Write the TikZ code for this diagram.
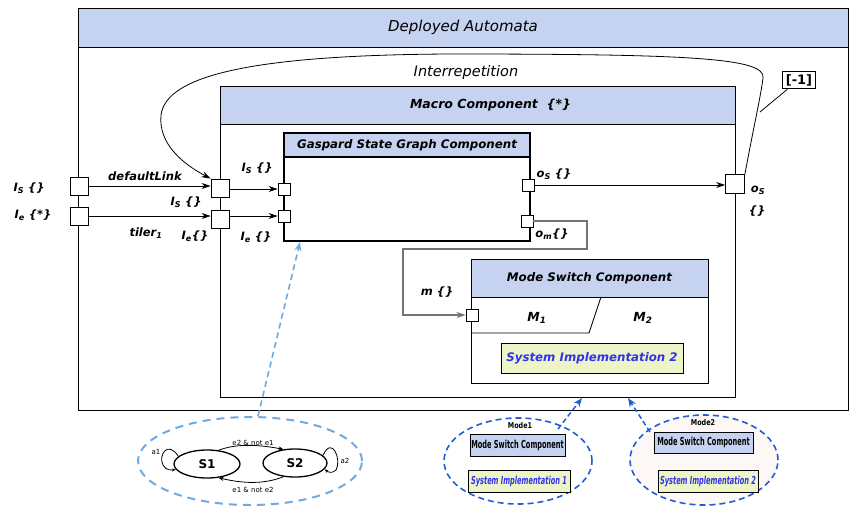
\documentclass[tikz,border=0pt]{standalone}
\usepackage{fontspec}
\setmainfont{DejaVu Sans}
\usetikzlibrary{arrows.meta,shapes.geometric,calc}
\definecolor{hdr}{RGB}{197,211,240}
\definecolor{yel}{RGB}{236,244,200}
\definecolor{impl}{RGB}{50,50,235}
\definecolor{lblue}{RGB}{110,170,225}
\definecolor{dblue}{RGB}{30,95,215}
\definecolor{pinkbg}{RGB}{253,247,245}
\begin{document}
\begin{tikzpicture}[x=1pt,y=-1pt,
  frame/.style={draw, line width=0.9pt, inner sep=0pt},
  hbox/.style={frame, fill=hdr},
  port/.style={draw, fill=white, line width=0.9pt, minimum size=18pt, inner sep=0pt},
  sport/.style={draw, fill=white, line width=0.9pt, minimum size=12pt, inner sep=0pt},
  arr/.style={line width=0.8pt, -{Stealth[length=9pt,width=6pt]}},
  lbl/.style={font=\bfseries\itshape\fontsize{11.5}{12}\selectfont, inner sep=1pt},
  state/.style={ellipse, draw, line width=1.3pt, inner sep=0pt, font=\bfseries\fontsize{12}{13}\selectfont},
  tiny/.style={font=\fontsize{7}{8}\selectfont, inner sep=1pt},
  small/.style={draw, line width=1pt, minimum height=22pt, inner sep=0pt}]
\useasboundingbox (0,0) rectangle (850,506);

% Deployed Automata
\node[frame, minimum width=770pt, minimum height=402pt] (dep) at (463,209) {};
\node[hbox, minimum width=770pt, minimum height=39pt, font=\itshape\fontsize{15}{17}\selectfont] (deph) at (463,27.5) {Deployed Automata};

% Macro component
\node[frame, minimum width=515pt, minimum height=311pt] (mac) at (477.5,241.5) {};
\node[hbox, minimum width=515pt, minimum height=38pt, font=\bfseries\itshape\fontsize{12.5}{14}\selectfont] (mach) at (477.5,105) {\hspace{26pt}Macro Component~~\{*\}};

% Gaspard
\node[draw, line width=2pt, minimum width=246pt, minimum height=108pt, inner sep=0pt] (gsg) at (407,187) {};
\node[draw, line width=2pt, fill=hdr, minimum width=246pt, minimum height=24pt, inner sep=0pt, font=\bfseries\itshape\fontsize{11.8}{13}\selectfont] (gsgh) at (407,145) {Gaspard State Graph Component};

% Mode switch
\node[frame, minimum width=237pt, minimum height=124pt] (msw) at (589.5,321) {};
\node[hbox, minimum width=237pt, minimum height=38pt, font=\bfseries\itshape\fontsize{11.8}{13}\selectfont] (mswh) at (589.5,278) {Mode Switch Component};
\coordinate (p1) at (471,333);
\coordinate (p2) at (589,333);
\coordinate (p3) at (601,297);
\draw[line width=0.9pt] (p1) -- (p2) -- (p3);
\node[lbl, font=\bfseries\itshape\fontsize{12.5}{13}\selectfont] (m1) at (537,318) {M\textsubscript{1}};
\node[lbl, font=\bfseries\itshape\fontsize{12.5}{13}\selectfont] (m2) at (643,318) {M\textsubscript{2}};
\node[draw, line width=0.9pt, fill=yel, minimum width=182pt, minimum height=30pt, inner sep=0pt, text=impl, font=\bfseries\itshape\fontsize{11.8}{13}\selectfont] (si2) at (592,358) {System Implementation 2};

% Ports
\node[port] (op1) at (79,186) {};
\node[port] (op2) at (79,216) {};
\node[port] (mp1) at (220,188) {};
\node[port] (mp2) at (220,219) {};
\node[sport] (gp1) at (284,189) {};
\node[sport] (gp2) at (284,216) {};
\node[sport] (gos) at (528,185) {};
\node[sport] (gom) at (527,221) {};
\node[port, minimum size=19pt] (mos) at (735,184) {};
\node[sport] (mm) at (472,315) {};

% Port labels
\node[lbl] at (29,188) {I\textsubscript{S}~\{\}};
\node[lbl] at (33,215) {I\textsubscript{e}~\{*\}};
\node[lbl] at (145,176) {defaultLink};
\node[lbl] at (146,233) {tiler\textsubscript{1}};
\node[lbl] at (186,202) {I\textsubscript{S}~\{\}};
\node[lbl] at (195,236) {I\textsubscript{e}\{\}};
\node[lbl] at (257,168) {I\textsubscript{S}~\{\}};
\node[lbl] at (256,237) {I\textsubscript{e}~\{\}};
\node[lbl] at (554,174) {o\textsubscript{S}~\{\}};
\node[lbl] at (552,234) {o\textsubscript{m}\{\}};
\node[lbl] at (758,190) {o\textsubscript{S}};
\node[lbl] at (757,211) {\{\}};
\node[lbl] at (437,292) {m~\{\}};

% Connectors
\draw[arr] (op1) -- (op1 -| mp1.west);
\draw[arr] (op2) -- (op2 -| mp2.west);
\draw[arr] (mp1.east |- gp1) -- (gp1);
\draw[arr] (mp2.east |- gp2) -- (gp2);
\draw[arr] (gos) -- (gos -| mos.west);
\coordinate (c1) at (587,221);
\coordinate (c2) at (587,249);
\coordinate (c3) at (403,249);
\coordinate (c4) at (403,315);
\draw[arr, draw=black!55, line width=1.3pt] (gom.east) -- (c1) -- (c2) -- (c3) -- (c4) -- (mm.west);

% Interrepetition
\draw[arr] (mos.north east) .. controls (752,135) and (761,95) .. (763,78)
  .. controls (766,58) and (690,54) .. (450,54)
  .. controls (250,55) and (166,76) .. (161,115)
  .. controls (158,145) and (185,165) .. (mp1.north west);
\node[font=\itshape\fontsize{14.5}{16}\selectfont] (irep) at (466,72) {Interrepetition};
\node[draw, line width=1pt, font=\bfseries\fontsize{13}{14}\selectfont, inner sep=3pt] (rep) at (799,80) {[-1]};
\coordinate (rj) at (760,112);
\draw[line width=0.8pt] (rep.south west) ++(5,0) -- (rj);

% Bottom: state graph
\node[ellipse, draw=lblue, line width=2pt, dash pattern=on 8pt off 6pt, minimum width=224pt, minimum height=88pt] (sg) at (250,461) {};
\node[state, minimum width=66pt, minimum height=28pt] (s1) at (207,464) {S1};
\node[state, minimum width=64pt, minimum height=28pt] (s2) at (295,463) {S2};
\draw[line width=0.8pt, -{Stealth[length=5pt,width=4pt]}] (s1.50) .. controls (235,444) and (255,444) .. (s2.130);
\draw[line width=0.8pt, -{Stealth[length=5pt,width=4pt]}] (s2.-130) .. controls (265,484) and (245,484) .. (s1.-50);
\draw[line width=0.8pt, -{Stealth[length=4pt,width=3pt]}] (s1.165) .. controls (168,440) and (158,455) .. (163,465) .. controls (166,471) and (172,470) .. (s1.-170);
\draw[line width=0.8pt, -{Stealth[length=4pt,width=3pt]}] (s2.15) .. controls (332,435) and (342,460) .. (336,470) .. controls (332,474) and (328,472) .. (s2.-12);
\node[tiny] at (253,443) {e2 \& not e1};
\node[tiny] at (253,490) {e1 \& not e2};
\node[tiny] at (156,452) {a1};
\node[tiny] at (345,461) {a2};
\draw[lblue, line width=1.6pt, dash pattern=on 6pt off 4pt, -{Stealth[length=9pt,width=7pt]}] (sg.north) ++(8,0) -- (gsg.south -| 300,0);

% Mode 1
\node[ellipse, draw=dblue, line width=1.6pt, dash pattern=on 6pt off 4pt, minimum width=148pt, minimum height=86pt] (md1) at (518,461) {};
\node[small, fill=hdr, minimum width=95pt] (ms1) at (517.5,445) {\scalebox{0.6}[1]{\fontsize{11}{12}\bfseries Mode Switch Component}};
\node[small, fill=yel, minimum width=102pt, text=impl] (sm1) at (519,481) {\scalebox{0.6}[1]{\fontsize{11}{12}\bfseries\itshape System Implementation 1}};
\node[font=\bfseries\fontsize{8}{9}\selectfont, inner sep=0pt] (lm1) at (520,426) {\scalebox{0.8}[1]{Mode1}};
\coordinate (a1s) at (558,429);
\draw[dblue, line width=1.5pt, dash pattern=on 5pt off 3pt, -{Stealth[length=9pt,width=7pt]}] (a1s) -- (582,398);

% Mode 2
\node[ellipse, draw=dblue, fill=pinkbg, line width=1.6pt, dash pattern=on 6pt off 4pt, minimum width=148pt, minimum height=90pt] (md2) at (704,460) {};
\node[small, fill=hdr, minimum width=99pt, minimum height=21pt] (ms2) at (703.5,442.5) {\scalebox{0.6}[1]{\fontsize{11}{12}\bfseries Mode Switch Component}};
\node[small, fill=yel, minimum width=100pt, text=impl] (sm2) at (708,481) {\scalebox{0.6}[1]{\fontsize{11}{12}\bfseries\itshape System Implementation 2}};
\node[font=\bfseries\fontsize{8}{9}\selectfont, inner sep=0pt] (lm2) at (703,423) {\scalebox{0.8}[1]{Mode2}};
\coordinate (a2s) at (650,432);
\draw[dblue, line width=1.5pt, dash pattern=on 5pt off 3pt, -{Stealth[length=9pt,width=7pt]}] (a2s) -- (628,398);
\end{tikzpicture}
\end{document}
